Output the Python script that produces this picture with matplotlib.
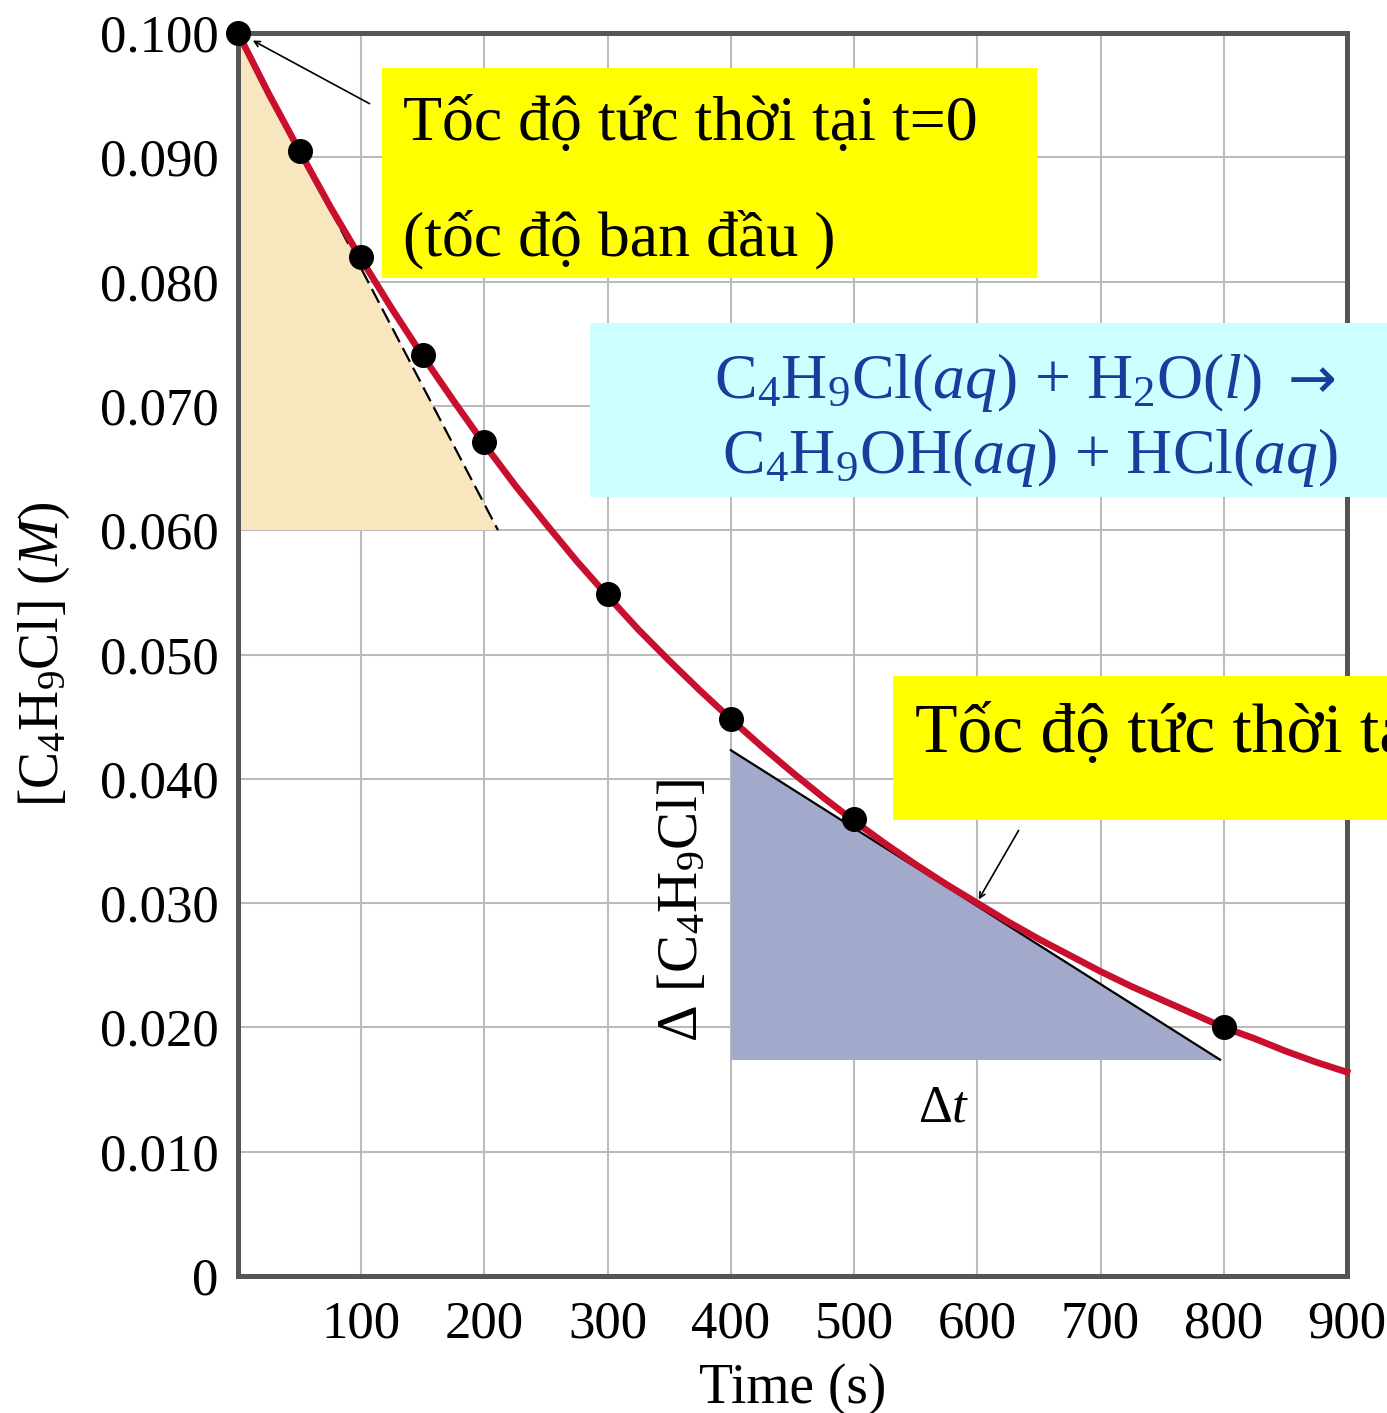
import matplotlib
matplotlib.use("Agg")
import matplotlib.pyplot as plt
from matplotlib.patches import Rectangle, Polygon

plt.rcParams['font.family'] = ['Liberation Serif', 'DejaVu Serif']
plt.rcParams['mathtext.fontset'] = 'custom'
plt.rcParams['mathtext.rm'] = 'Liberation Serif'
plt.rcParams['mathtext.it'] = 'Liberation Serif:italic'

# measured points
time_s = [0, 50, 100, 150, 200, 300, 400, 500, 800]
conc = [0.1000, 0.0905, 0.0820, 0.0741, 0.0671, 0.0549, 0.0448, 0.0368, 0.0200]

# smooth fitted curve, every 25 s
curve_t = [0, 25, 50, 75, 100, 125, 150, 175, 200, 225, 250, 275, 300, 325,
           350, 375, 400, 425, 450, 475, 500, 525, 550, 575, 600, 625, 650,
           675, 700, 725, 750, 775, 800, 825, 850, 875, 900]
curve_c = [0.1000, 0.0951, 0.0905, 0.0860, 0.0818, 0.0778, 0.0740, 0.0704,
           0.0669, 0.0636, 0.0605, 0.0575, 0.0547, 0.0520, 0.0495, 0.0471,
           0.0448, 0.0426, 0.0405, 0.0385, 0.0366, 0.0348, 0.0331, 0.0315,
           0.0300, 0.0285, 0.0271, 0.0258, 0.0245, 0.0233, 0.0222, 0.0211,
           0.0200, 0.0191, 0.0181, 0.0172, 0.0164]

# tangent at t=0 (dashed) and at t=600 (solid)
tan0_t = [0, 211]
tan0_c = [0.1000, 0.0600]
tan600_t = [400, 797]
tan600_c = [0.0423, 0.0174]

xticks = [100, 200, 300, 400, 500, 600, 700, 800, 900]
yticks = [0, 0.010, 0.020, 0.030, 0.040, 0.050, 0.060, 0.070, 0.080, 0.090, 0.100]
ylabels = ['0', '0.010', '0.020', '0.030', '0.040', '0.050', '0.060',
           '0.070', '0.080', '0.090', '0.100']

W, H = 1387, 1413
fig = plt.figure(figsize=(W / 100, H / 100), dpi=100)
ax = fig.add_axes([238 / W, 1 - 1276 / H, (1347 - 238) / W, (1276 - 33) / H])
ax.set_xlim(0, 900)
ax.set_ylim(0, 0.100)

# shaded triangles
ax.add_patch(Polygon([(tan0_t[0], tan0_c[0]), (tan0_t[0], tan0_c[1]), (tan0_t[1], tan0_c[1])],
                     closed=True, facecolor='#F8E6BE', edgecolor='none', zorder=1))
ax.add_patch(Polygon([(tan600_t[0], tan600_c[0]), (tan600_t[0], tan600_c[1]), (tan600_t[1], tan600_c[1])],
                     closed=True, facecolor='#A2A9CA', edgecolor='none', zorder=1))

ax.grid(True, color='#BBBBBB', linewidth=1.5, zorder=0)
ax.set_axisbelow(True)
ax.set_xticks(xticks)
ax.set_yticks(yticks)
ax.set_yticklabels(ylabels)
ax.tick_params(length=0, labelsize=38, pad=14)
ax.tick_params(axis='x', pad=18)
for sp in ax.spines.values():
    sp.set_color('#555555')
    sp.set_linewidth(3.6)

ax.plot(tan0_t, tan0_c, color='black', linestyle=(0, (7, 3)), linewidth=1.6, zorder=3)
ax.plot(tan600_t, tan600_c, color='black', linewidth=1.6, zorder=3)
ax.plot(curve_t, curve_c, color='#C8102E', linewidth=4.8, zorder=4, clip_on=False)
ax.plot(time_s, conc, 'o', color='black', markersize=17, zorder=5, clip_on=False)

ax.set_xlabel('Time (s)', fontsize=40, labelpad=10)
ax.set_ylabel('[C$_4$H$_9$Cl] ($M$)', fontsize=40, labelpad=20)

ax.text(361, 0.0294, 'Δ [C$_4$H$_9$Cl]', rotation=90, fontsize=41,
        ha='center', va='center', zorder=6)
ax.text(573, 0.0135, 'Δ$t$', fontsize=38, ha='center', va='center',
        bbox=dict(facecolor='white', edgecolor='none', pad=1), zorder=6)

# annotation boxes, in figure pixels
fig.patches.append(Rectangle((382 / W, 1 - 278 / H), (1037 - 382) / W, (278 - 68) / H,
                             transform=fig.transFigure, facecolor='#FFFF00',
                             edgecolor='none', zorder=10))
fig.patches.append(Rectangle((590 / W, 1 - 497 / H), (W - 590) / W, (497 - 323) / H,
                             transform=fig.transFigure, facecolor='#CCFFFF',
                             edgecolor='none', zorder=10))
fig.patches.append(Rectangle((893 / W, 1 - 820 / H), (W - 893) / W, (820 - 676) / H,
                             transform=fig.transFigure, facecolor='#FFFF00',
                             edgecolor='none', zorder=10))

fig.text(403 / W, 1 - 140 / H, 'Tốc độ tức thời tại t=0', fontsize=46,
         va='baseline', ha='left', zorder=11)
fig.text(403 / W, 1 - 255 / H, '(tốc độ ban đầu )', fontsize=46,
         va='baseline', ha='left', zorder=11)
fig.text(1262 / W, 1 - 398 / H, 'C$_4$H$_9$Cl($aq$) + H$_2$O($l$)', fontsize=46,
         color='#1A3C9C', va='baseline', ha='right', zorder=11)
fig.text(1288 / W, 1 - 398 / H, '→', fontsize=42, family='DejaVu Sans',
         color='#1A3C9C', va='baseline', ha='left', zorder=11)
fig.text(1030 / W, 1 - 473 / H, 'C$_4$H$_9$OH($aq$) + HCl($aq$)', fontsize=46,
         color='#1A3C9C', va='baseline', ha='center', zorder=11)
fig.text(915 / W, 1 - 752 / H, 'Tốc độ tức thời tại t=600', fontsize=50,
         va='baseline', ha='left', zorder=11)

# arrows
ax.annotate('', xy=(10, 0.0995), xycoords='data',
            xytext=(372 / W, 1 - 105 / H), textcoords='figure fraction',
            arrowprops=dict(arrowstyle='->', color='black', lw=1.2), zorder=6)
ax.annotate('', xy=(600, 0.0301), xycoords='data',
            xytext=(1020 / W, 1 - 828 / H), textcoords='figure fraction',
            arrowprops=dict(arrowstyle='->', color='black', lw=1.2), zorder=6)

fig.savefig('out.png', dpi=100)
